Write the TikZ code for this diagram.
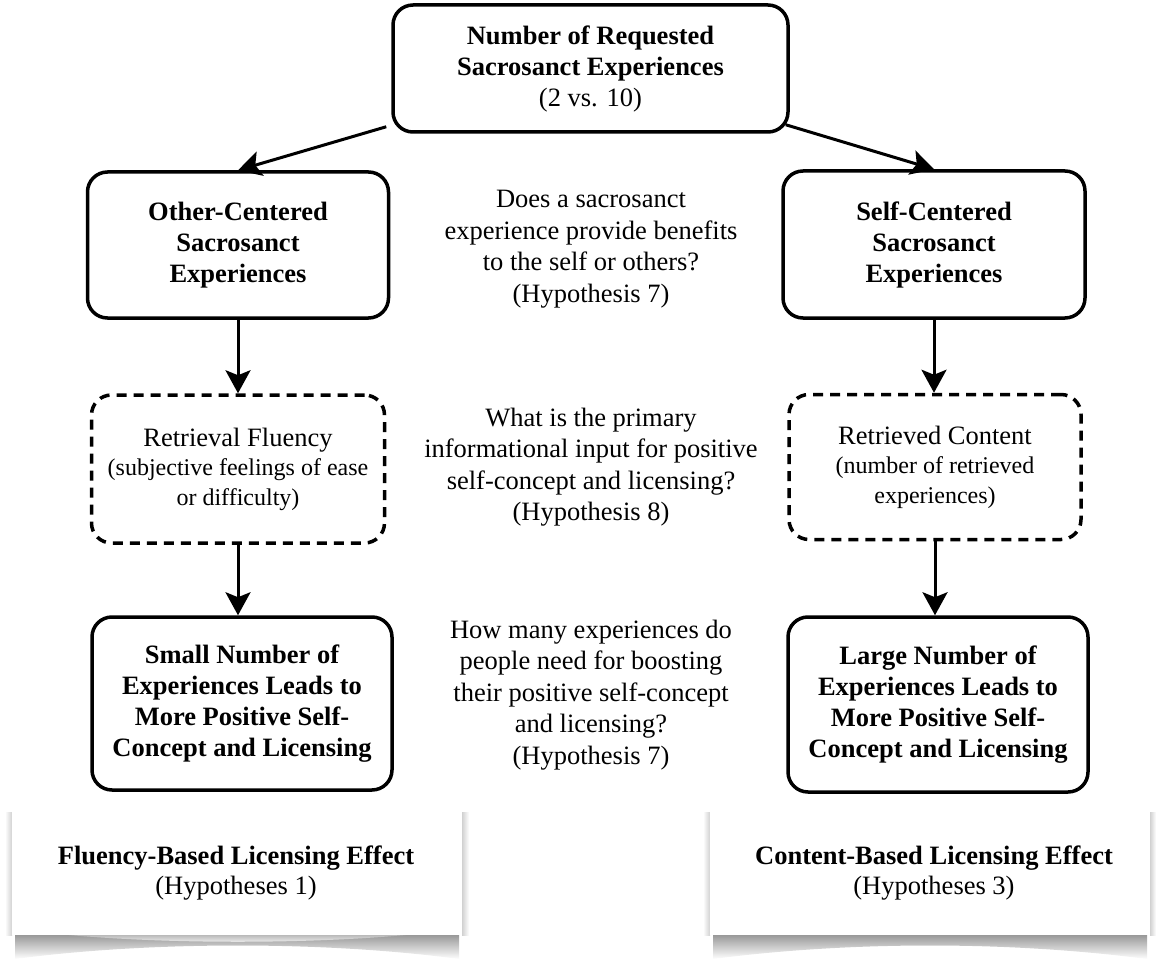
\documentclass[tikz,border=0pt]{standalone}
\usepackage{fontspec}
\setmainfont{Liberation Serif}
\usetikzlibrary{arrows.meta}
\newcommand{\parenfont}{\fontsize{24}{29.5}\selectfont}
\begin{document}
\begin{tikzpicture}[x=1pt,y=-1pt,
  box/.style={draw, line width=3.5pt, rounded corners=20pt, align=center,
    inner sep=0pt, font=\bfseries\fontsize{26.5}{31}\selectfont},
  dbox/.style={draw, line width=3.5pt, dash pattern=on 10pt off 7pt,
    rounded corners=20pt, align=center, inner sep=0pt,
    font=\fontsize{26.5}{29.5}\selectfont},
  qtext/.style={align=center, inner sep=0pt, font=\fontsize{26.5}{31.5}\selectfont},
  ptext/.style={align=center, inner sep=0pt, font=\fontsize{26.5}{30}\selectfont},
  arr/.style={line width=3pt, -{Stealth[length=23pt,width=25pt,inset=5pt]}},
]
\useasboundingbox (0,0) rectangle (1156,960);

% ---- lower panels with curled paper shadow ----
\shade[top color=black!45, bottom color=white]
  (15,932) -- (15,959) .. controls (150,941) and (326,941) .. (459,959) -- (459,932) -- cycle;
\shade[top color=black!35, bottom color=white]
  (40,932) .. controls (150,945) and (326,945) .. (434,932) -- cycle;
\shade[left color=white, right color=black!18] (5,812) rectangle (12,935);
\shade[left color=black!18, right color=white] (462,812) rectangle (469,935);
\fill[white] (12,808) rectangle (462,935);

\shade[top color=black!45, bottom color=white]
  (713,932) -- (713,959) .. controls (850,941) and (1010,941) .. (1147,959) -- (1147,932) -- cycle;
\shade[left color=white, right color=black!18] (703,812) rectangle (710,935);
\shade[left color=black!18, right color=white] (1150,812) rectangle (1156,935);
\fill[white] (710,808) rectangle (1150,935);

\node[ptext] (pl) at (236,873) {{\bfseries Fluency-Based Licensing Effect}\\(Hypotheses 1)};
\node[ptext] (pr) at (934,873) {{\bfseries Content-Based Licensing Effect}\\(Hypotheses 3)};

% ---- flow boxes ----
\node[box, minimum width=395pt, minimum height=127pt] (top) at (590.5,68.5)
  {Number of Requested\\Sacrosanct Experiences\\{\mdseries (2 vs. 10)}};

\node[box, minimum width=301pt, minimum height=146pt] (oc) at (238,245)
  {Other-Centered\\Sacrosanct\\Experiences};
\node[box, minimum width=302pt, minimum height=147pt] (sc) at (934,244.5)
  {Self-Centered\\Sacrosanct\\Experiences};

\node[dbox, minimum width=293pt, minimum height=148pt] (rf) at (238,469)
  {Retrieval Fluency\\{\parenfont (subjective feelings of ease}\\{\parenfont or difficulty)}};
\node[dbox, minimum width=292pt, minimum height=145pt] (rc) at (935,467)
  {Retrieved Content\\{\parenfont (number of retrieved}\\{\parenfont experiences)}};

\node[box, minimum width=300pt, minimum height=173pt] (sm) at (242,703.5)
  {Small Number of\\Experiences Leads to\\More Positive Self-\\Concept and Licensing};
\node[box, minimum width=300pt, minimum height=175pt] (lg) at (938,704.5)
  {Large Number of\\Experiences Leads to\\More Positive Self-\\Concept and Licensing};

% ---- questions in the middle column ----
\node[qtext] (q1) at (591,249)
  {Does a sacrosanct\\experience provide benefits\\to the self or others?\\(Hypothesis 7)};
\node[qtext] (q2) at (591,467)
  {What is the primary\\informational input for positive\\self-concept and licensing?\\(Hypothesis 8)};
\node[qtext] (q3) at (591,695)
  {How many experiences do\\people need for boosting\\their positive self-concept\\and licensing?\\(Hypothesis 7)};

% ---- connectors ----
\draw[arr] ([shift={(-5,-7)}]top.south west) -- (oc.north);
\draw[arr] ([shift={(-4,-9)}]top.south east) -- (sc.north);
\draw[arr] (oc.south) -- (rf.north);
\draw[arr] (sc.south) -- (sc.south |- rc.north);
\draw[arr] (rf.south) -- (rf.south |- sm.north);
\draw[arr] (rc.south) -- (rc.south |- lg.north);
\end{tikzpicture}
\end{document}
